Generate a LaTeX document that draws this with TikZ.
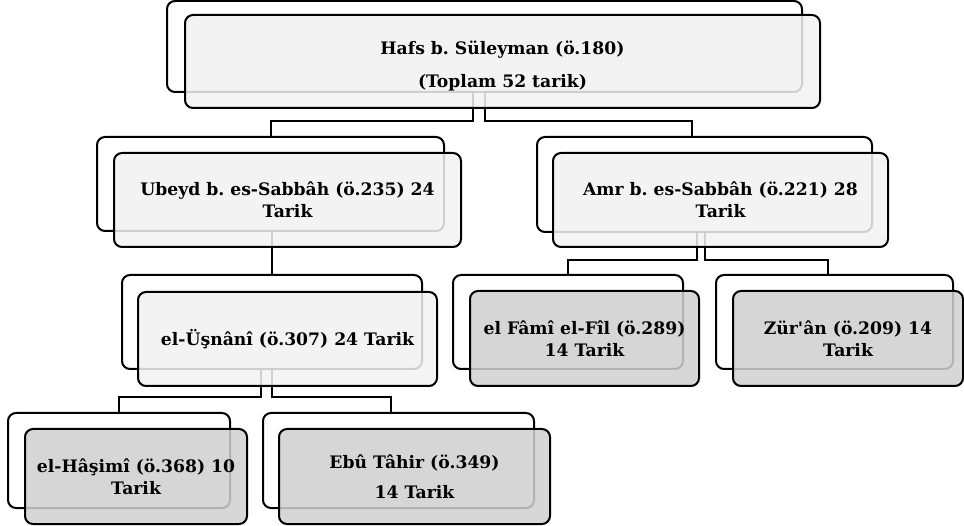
\documentclass[tikz,border=0pt]{standalone}
\usepackage{fontspec}
\setmainfont{DejaVu Serif}
\definecolor{paleboxgray}{HTML}{F2F2F2}
\definecolor{leafboxgray}{HTML}{D0D0D0}
\frenchspacing
\begin{document}
\begin{tikzpicture}[x=1pt,y=-1pt]
          \useasboundingbox (0,0) rectangle (964,526);
          \tikzstyle{backbox} = [draw, fill=white, rounded corners=8pt, line width=2pt, inner sep=0pt, outer sep=0pt];
          \tikzstyle{frontbox} = [draw, rounded corners=8pt, line width=2pt, inner sep=0pt, outer sep=0pt, fill opacity=0.86, text opacity=1, align=center, font=\fontsize{17.2}{22}\selectfont\bfseries];
          \tikzstyle{conn} = [line width=2pt];
          % back boxes
          \node[backbox, minimum width=635pt, minimum height=91pt](hafsB) at (484.5,46.5) {};
          \node[backbox, minimum width=347pt, minimum height=94pt](ubeydB) at (270.5,184) {};
          \node[backbox, minimum width=335pt, minimum height=95pt](amrB) at (704.5,184.5) {};
          \node[backbox, minimum width=300pt, minimum height=94pt](usnaniB) at (272,322) {};
          \node[backbox, minimum width=230pt, minimum height=94pt](famiB) at (568,322) {};
          \node[backbox, minimum width=237pt, minimum height=94pt](zuranB) at (834.5,322) {};
          \node[backbox, minimum width=222pt, minimum height=95pt](hasimiB) at (119,460.5) {};
          \node[backbox, minimum width=271pt, minimum height=95pt](ebuB) at (398.5,460.5) {};
          % connectors
          \draw[conn] ([xshift=-12pt]hafsB.south) -- ++(0,29) -| (ubeydB.north);
          \draw[conn] (hafsB.south) -- ++(0,29) -| ([xshift=-13pt]amrB.north);
          \draw[conn] (usnaniB.north |- ubeydB.south) -- (usnaniB.north);
          \draw[conn] ([xshift=-8pt]amrB.south) -- ++(0,28) -| (famiB.north);
          \draw[conn] (amrB.south) -- ++(0,28) -| ([xshift=-7pt]zuranB.north);
          \draw[conn] ([xshift=-11pt]usnaniB.south) -- ++(0,28) -| (hasimiB.north);
          \draw[conn] (usnaniB.south) -- ++(0,28) -| ([xshift=-8pt]ebuB.north);
          % front boxes
          \node[frontbox, fill=paleboxgray, minimum width=635pt, minimum height=93pt](hafs) at (502.5,61.5) {\raisebox{-5pt}[\height][\depth]{Hafs b. Süleyman (ö.180)}\\[11pt]\raisebox{-5pt}[\height][\depth]{(Toplam 52 tarik)}};
          \node[frontbox, fill=paleboxgray, minimum width=347pt, minimum height=94pt](ubeyd) at (287.5,200) {Ubeyd b. es-Sabbâh (ö.235) 24\\Tarik};
          \node[frontbox, fill=paleboxgray, minimum width=335pt, minimum height=94pt](amr) at (720.5,200) {Amr b. es-Sabbâh (ö.221) 28\\Tarik};
          \node[frontbox, fill=paleboxgray, minimum width=299pt, minimum height=94pt](usnani) at (287.5,339) {el-Üşnânî (ö.307) 24 Tarik};
          \node[frontbox, fill=leafboxgray, minimum width=229pt, minimum height=95pt](fami) at (584.5,338.5) {el Fâmî el-Fîl (ö.289)\\14 Tarik};
          \node[frontbox, fill=leafboxgray, minimum width=230pt, minimum height=95pt](zuran) at (848,338.5) {Zür\textquotesingle ân (ö.209) 14\\Tarik};
          \node[frontbox, fill=leafboxgray, minimum width=222pt, minimum height=95pt](hasimi) at (136,476.5) {el-Hâşimî (ö.368) 10\\Tarik};
          \node[frontbox, fill=leafboxgray, minimum width=271pt, minimum height=95pt](ebu) at (414.5,476.5) {Ebû Tâhir (ö.349)\\[8pt]14 Tarik};
\end{tikzpicture}
\end{document}
